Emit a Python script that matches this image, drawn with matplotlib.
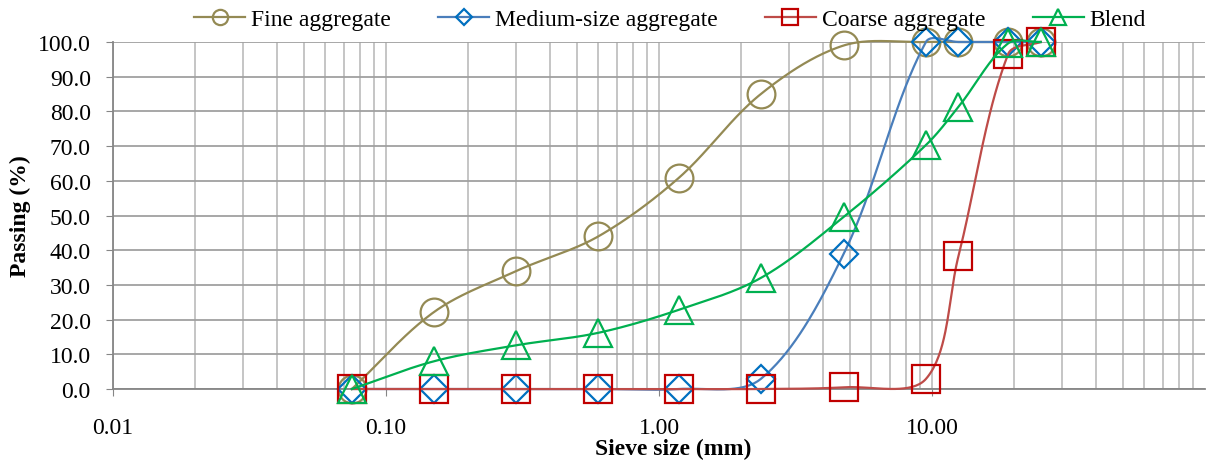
import numpy as np
import matplotlib
matplotlib.use('Agg')
import matplotlib.pyplot as plt
from matplotlib.ticker import FixedLocator, LogLocator, NullFormatter

plt.rcParams['font.family'] = ['Liberation Serif', 'DejaVu Serif']

# sieve sizes (mm) and percent passing
sieve = [0.075, 0.15, 0.3, 0.6, 1.18, 2.36, 4.75, 9.5, 12.5, 19, 25]
fine = [0.0, 22.2, 34.0, 44.0, 60.8, 85.0, 99.0, 100.0, 100.0, 100.0, 100.0]
medium = [0.0, 0.0, 0.0, 0.0, 0.0, 2.9, 39.0, 100.0, 100.0, 100.0, 100.0]
coarse = [0.0, 0.0, 0.0, 0.0, 0.0, 0.0, 0.5, 2.9, 38.3, 96.5, 100.0]
blend = [0.0, 8.0, 12.6, 16.2, 22.8, 32.0, 49.6, 70.3, 81.3, 99.6, 100.0]

x_ticks = [0.01, 0.1, 1, 10]
x_ticklabels = ['0.01', '0.10', '1.00', '10.00']
y_ticks = list(range(0, 101, 10))


def smooth(xs, ys, n=40):
    # bezier smoothing like a spreadsheet "smoothed line", in screen-like units
    sx, sy = 273.0, 3.47
    u = np.log10(xs) * sx
    v = np.array(ys) * sy
    pts = np.column_stack([u, v])
    pp = np.vstack([pts[0], pts, pts[-1]])
    out = []
    t = np.linspace(0, 1, n)[:, None]
    for i in range(len(pts) - 1):
        a, p1, p2, b = pp[i], pp[i + 1], pp[i + 2], pp[i + 3]
        d01 = np.hypot(*(p1 - a))
        d12 = np.hypot(*(p2 - p1))
        d23 = np.hypot(*(b - p2))
        f1 = d12 / (3 * (d01 + d12)) if d01 + d12 > 0 else 0
        f2 = d12 / (3 * (d12 + d23)) if d12 + d23 > 0 else 0
        c1 = p1 + (p2 - a) * f1
        c2 = p2 - (b - p1) * f2
        seg = ((1 - t) ** 3) * p1 + 3 * ((1 - t) ** 2) * t * c1 + 3 * (1 - t) * t ** 2 * c2 + t ** 3 * p2
        out.append(seg)
    out = np.vstack(out)
    return 10 ** (out[:, 0] / sx), out[:, 1] / sy


fig = plt.figure(figsize=(12.07, 4.64), dpi=100)
ax = fig.add_axes([113 / 1207, 1 - 390 / 464, 1092 / 1207, 347 / 464])

series = [
    ('Fine aggregate', fine, '#948A54', '#948A54', 'o', 20),
    ('Medium-size aggregate', medium, '#4A7EBB', '#0070C0', 'D', 14.5),
    ('Coarse aggregate', coarse, '#BE4B48', '#C00000', 's', 20),
    ('Blend', blend, '#00B050', '#00B050', '^', 20),
]

for i, (name, vals, lc, mc, mk, ms) in enumerate(series):
    sx, sy = smooth(sieve, vals)
    ax.plot(sx, sy, color=lc, lw=1.6, zorder=3 + i, clip_on=False)
    ax.plot(sieve, vals, linestyle='none', marker=mk, ms=ms, mfc='none',
            mec=mc, mew=1.6, zorder=3 + i, clip_on=False)
    # legend proxy
    ax.plot([], [], color=lc, lw=1.6, marker=mk, ms=ms, mfc='none',
            mec=mc, mew=1.6, label=name)

ax.set_xscale('log')
ax.set_xlim(0.01, 100)
ax.set_ylim(0, 100)

ax.xaxis.set_major_locator(FixedLocator(x_ticks))
ax.set_xticklabels(x_ticklabels)
ax.xaxis.set_minor_locator(LogLocator(base=10, subs=np.arange(2, 10)))
ax.xaxis.set_minor_formatter(NullFormatter())
ax.set_yticks(y_ticks)
ax.set_yticklabels([f'{v:.1f}' for v in y_ticks])

ax.grid(True, which='major', axis='x', color='#C0C0C0', lw=1.3, zorder=0)
ax.grid(True, which='minor', axis='x', color='#C0C0C0', lw=1.3, zorder=0)
ax.grid(True, which='major', axis='y', color='#A0A0A0', lw=1.3, zorder=0)
ax.set_axisbelow(True)

for s in ['top', 'right']:
    ax.spines[s].set_visible(False)
for s in ['left', 'bottom']:
    ax.spines[s].set_color('#868686')
    ax.spines[s].set_linewidth(1.3)

ax.tick_params(axis='x', which='major', length=5, color='#868686', pad=15, labelsize=17)
ax.tick_params(axis='x', which='minor', length=0)
ax.tick_params(axis='y', length=5, color='#868686', pad=11, labelsize=17)

ax.set_xlabel('Sieve size (mm)', fontsize=17, fontweight='bold')
ax.xaxis.set_label_coords((673 - 113) / 1092, -0.142)
ax.set_ylabel('Passing (%)', fontsize=17, fontweight='bold')
ax.yaxis.set_label_coords(-0.075, 0.5)

fig.legend(loc='upper center', bbox_to_anchor=(670 / 1207, 1.025), ncol=4,
           frameon=False, fontsize=17, markerscale=0.55, handlelength=2.16,
           handletextpad=0.25, columnspacing=2.0)

fig.savefig('out.png', dpi=100)
